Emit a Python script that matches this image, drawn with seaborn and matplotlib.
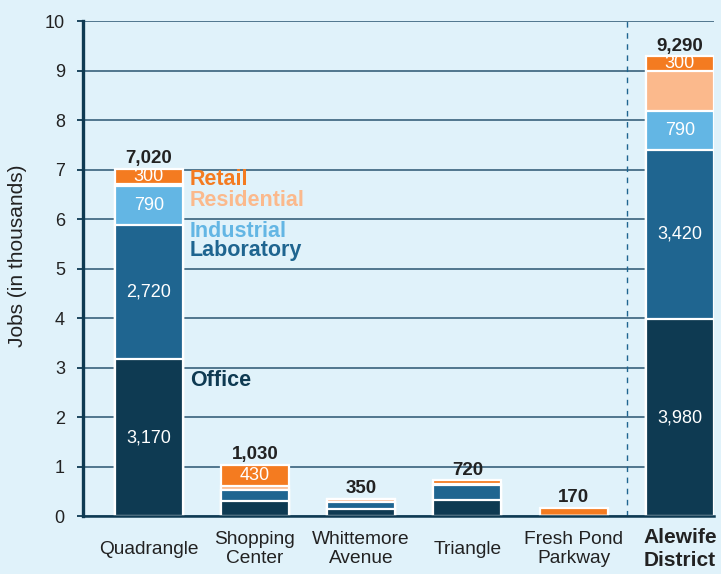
import matplotlib
matplotlib.use("Agg")
import matplotlib.pyplot as plt
import seaborn as sns
import pandas as pd

# Jobs by area (individual jobs); the Alewife District bar is the whole district
categories = ["Quadrangle", "Shopping\nCenter", "Whittemore\nAvenue", "Triangle",
              "Fresh Pond\nParkway", "Alewife\nDistrict"]
office = [3170, 300, 140, 320, 0, 3980]
laboratory = [2720, 230, 150, 300, 0, 3420]
industrial = [790, 0, 0, 0, 0, 790]
residential = [40, 70, 60, 20, 0, 800]
retail = [300, 430, 0, 80, 170, 300]
totals = [7020, 1030, 350, 720, 170, 9290]
y_ticks = list(range(0, 11))

series_names = ["Office", "Laboratory", "Industrial", "Residential", "Retail"]
series_values = [office, laboratory, industrial, residential, retail]
series_colors = ["#0e3a52", "#1f6590", "#63b6e4", "#fbb98c", "#f47b20"]
# segments that carry a value label inside the bar
labelled = {"Office": [0, 5], "Laboratory": [0, 5], "Industrial": [0, 5], "Retail": [0, 1, 5]}
# side key text and its vertical placement (thousands)
key_y = {"Retail": 6.81, "Residential": 6.38, "Industrial": 5.76, "Laboratory": 5.37, "Office": 2.73}

BG = "#e0f2fa"
NAVY = "#0e3a52"
INK = "#222222"

sns.set_theme(style="white")
plt.rcParams["font.family"] = ["Liberation Sans", "DejaVu Sans"]

df = pd.DataFrame({"area": categories})
for name, vals in zip(series_names, series_values):
    df[name] = vals
cum = df[series_names].cumsum(axis=1) / 1000.0

fig = plt.figure(figsize=(7.21, 5.74), dpi=100, facecolor=BG)
ax = fig.add_axes([0.115, 0.101, 0.875, 0.862])
ax.set_facecolor(BG)

# stacked bars: draw cumulative totals from the top layer down
for name, color in reversed(list(zip(series_names, series_colors))):
    sns.barplot(x=df["area"], y=cum[name], order=categories, color=color, saturation=1,
                width=0.64, edgecolor="white", linewidth=1.6, errorbar=None, ax=ax, zorder=2)

# value labels inside segments
for name, idxs in labelled.items():
    vals = df[name]
    for i in idxs:
        v = vals[i]
        center = cum[name][i] - v / 2000.0
        ax.text(i, center, f"{v:,}", ha="center", va="center", color="white",
                fontsize=13, zorder=4)

# totals above bars
for i, t in enumerate(totals):
    ax.annotate(f"{t:,}", (i, t / 1000.0), xytext=(0, 1.2), textcoords="offset points",
                ha="center", va="bottom", fontsize=13.5, fontweight="bold",
                color=INK, zorder=4)

# key beside the first bar
for name, color in zip(series_names, series_colors):
    ax.text(0.386, key_y[name], name, color=color, fontsize=15.5, fontweight="bold",
            ha="left", va="center", zorder=4)

# separator between the areas and the district total
ax.axvline(4.5, color="#1f6590", lw=1.0, ls=(0, (4, 4)), zorder=1)

ax.set_xlim(-0.62, 5.32)
ax.set_ylim(0, 10)
ax.set_yticks(y_ticks)
ax.set_yticklabels([str(v) for v in y_ticks])
ax.yaxis.grid(True, color="#2a5570", linewidth=1.1)
ax.xaxis.grid(False)
ax.set_axisbelow(True)

for side in ("top", "right"):
    ax.spines[side].set_visible(False)
ax.spines["left"].set_color(NAVY)
ax.spines["left"].set_linewidth(2.4)
ax.spines["bottom"].set_color(NAVY)
ax.spines["bottom"].set_linewidth(1.8)

ax.tick_params(axis="y", length=4, width=1.3, color=NAVY, pad=9,
               labelsize=13, labelcolor=INK, left=True)
ax.tick_params(axis="x", length=0, labelbottom=False)
ax.set_xlabel("")
ax.set_ylabel("Jobs (in thousands)", fontsize=15, color=INK)
ax.yaxis.set_label_coords(-0.089, 0.527)

# category names under the bars
for i, cat in enumerate(categories):
    last = i == len(categories) - 1
    ax.text(i, -0.0667, cat, transform=ax.get_xaxis_transform(), ha="center", va="center",
            fontsize=15 if last else 13.8, fontweight="bold" if last else "normal",
            linespacing=1.22, color=INK, clip_on=False)

fig.savefig("out.png", dpi=100, facecolor=BG)
